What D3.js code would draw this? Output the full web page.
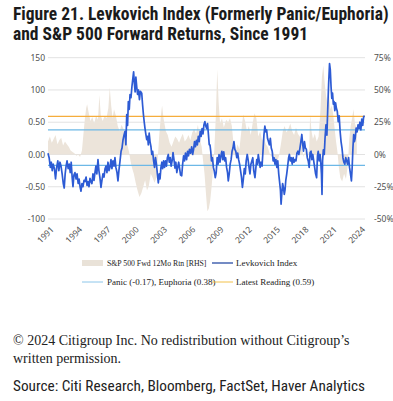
<!DOCTYPE html>
<html>
<head>
<meta charset="utf-8">
<script src="https://cdn.jsdelivr.net/npm/d3@7"></script>
<style>
  body { margin: 0; background: #fff; }
  svg { display: block; }
</style>
</head>
<body>
<script>
// Levkovich Index, [year, index]
var levkovich = [
  [1991.00, 0.02], [1991.12, -0.05], [1991.25, -0.20], [1991.35, -0.12], [1991.45, -0.25], [1991.55, -0.15],
  [1991.68, -0.22], [1991.80, -0.38], [1991.92, -0.20], [1992.04, -0.10], [1992.15, -0.25], [1992.27, -0.12],
  [1992.38, -0.18], [1992.50, -0.30], [1992.62, -0.45], [1992.72, -0.52], [1992.82, -0.30], [1992.92, -0.18],
  [1993.02, -0.10], [1993.14, -0.22], [1993.25, -0.15], [1993.36, -0.28], [1993.46, -0.12], [1993.56, -0.35],
  [1993.65, -0.50], [1993.75, -0.32], [1993.86, -0.28], [1993.98, -0.38], [1994.08, -0.30], [1994.20, -0.45],
  [1994.30, -0.38], [1994.40, -0.50], [1994.50, -0.57], [1994.60, -0.45], [1994.71, -0.50], [1994.82, -0.40],
  [1994.92, -0.42], [1995.04, -0.35], [1995.14, -0.48], [1995.24, -0.42], [1995.35, -0.50], [1995.45, -0.37],
  [1995.56, -0.42], [1995.66, -0.45], [1995.77, -0.30], [1995.88, -0.40], [1995.98, -0.28], [1996.08, -0.18],
  [1996.18, -0.30], [1996.30, -0.08], [1996.40, -0.25], [1996.50, -0.35], [1996.62, -0.51], [1996.72, -0.40],
  [1996.83, -0.30], [1996.94, -0.35], [1997.05, -0.22], [1997.15, -0.18], [1997.25, -0.28], [1997.36, -0.12],
  [1997.47, -0.25], [1997.57, -0.20], [1997.68, -0.08], [1997.78, -0.22], [1997.89, -0.10], [1998.00, -0.18],
  [1998.10, -0.05], [1998.20, -0.20], [1998.32, -0.28], [1998.42, -0.41], [1998.52, -0.25], [1998.64, -0.10],
  [1998.75, 0.05], [1998.85, 0.10], [1998.95, 0.22], [1999.06, 0.30], [1999.17, 0.36], [1999.26, 0.15],
  [1999.35, 0.62], [1999.44, 0.45], [1999.52, 0.82], [1999.62, 0.70], [1999.70, 0.93], [1999.80, 0.88],
  [1999.90, 1.05], [2000.00, 1.18], [2000.08, 1.28], [2000.16, 1.10], [2000.24, 0.97], [2000.32, 1.20],
  [2000.41, 1.05], [2000.50, 0.93], [2000.60, 1.00], [2000.70, 0.85], [2000.80, 0.98], [2000.94, 0.95],
  [2001.03, 0.77], [2001.12, 0.62], [2001.20, 0.51], [2001.29, 0.40], [2001.38, 0.31], [2001.47, 0.23],
  [2001.56, 0.28], [2001.64, 0.15], [2001.73, 0.33], [2001.82, 0.20], [2001.92, 0.12], [2002.00, 0.00],
  [2002.10, 0.05], [2002.20, -0.10], [2002.30, -0.20], [2002.40, -0.05], [2002.50, -0.15], [2002.60, -0.30],
  [2002.70, -0.44], [2002.80, -0.30], [2002.88, -0.38], [2002.98, -0.20], [2003.08, -0.12], [2003.16, -0.22],
  [2003.26, -0.10], [2003.36, -0.20], [2003.46, -0.10], [2003.56, -0.18], [2003.66, -0.05], [2003.76, 0.00],
  [2003.86, -0.12], [2003.96, -0.05], [2004.06, -0.18], [2004.16, -0.10], [2004.26, 0.03], [2004.36, -0.08],
  [2004.47, -0.21], [2004.56, -0.12], [2004.66, -0.28], [2004.76, -0.20], [2004.86, -0.12], [2004.96, -0.22],
  [2005.06, -0.32], [2005.18, -0.33], [2005.28, -0.15], [2005.38, -0.02], [2005.48, -0.10], [2005.58, 0.02],
  [2005.70, -0.08], [2005.80, 0.05], [2005.90, -0.02], [2006.00, 0.08], [2006.12, 0.02], [2006.24, 0.12],
  [2006.34, 0.00], [2006.44, 0.08], [2006.54, 0.20], [2006.64, 0.12], [2006.74, 0.22], [2006.84, 0.15],
  [2006.94, 0.28], [2007.04, 0.20], [2007.14, 0.36], [2007.24, 0.28], [2007.34, 0.40], [2007.44, 0.32],
  [2007.54, 0.46], [2007.64, 0.51], [2007.74, 0.44], [2007.84, 0.40], [2007.92, 0.48], [2008.02, 0.30],
  [2008.10, 0.15], [2008.18, 0.15], [2008.26, 0.05], [2008.34, -0.10], [2008.44, -0.05], [2008.54, -0.20],
  [2008.64, -0.26], [2008.74, -0.36], [2008.84, -0.28], [2008.94, -0.05], [2009.04, -0.15], [2009.14, 0.00],
  [2009.24, -0.12], [2009.34, -0.02], [2009.44, 0.05], [2009.54, -0.08], [2009.64, 0.04], [2009.74, -0.10],
  [2009.84, -0.05], [2009.94, -0.20], [2010.04, -0.28], [2010.12, -0.41], [2010.22, -0.30], [2010.32, -0.15],
  [2010.42, -0.08], [2010.52, 0.05], [2010.62, 0.10], [2010.72, 0.20], [2010.82, 0.08], [2010.92, 0.05],
  [2011.02, -0.05], [2011.12, 0.02], [2011.22, -0.08], [2011.32, -0.15], [2011.42, -0.25], [2011.52, -0.35],
  [2011.62, -0.51], [2011.72, -0.38], [2011.82, -0.22], [2011.92, -0.30], [2012.02, -0.10], [2012.13, 0.00],
  [2012.22, -0.08], [2012.32, -0.20], [2012.42, -0.30], [2012.52, -0.15], [2012.62, -0.10], [2012.72, -0.05],
  [2012.82, -0.25], [2012.95, -0.36], [2013.05, -0.20], [2013.14, -0.08], [2013.22, -0.15], [2013.30, 0.00],
  [2013.40, -0.10], [2013.50, -0.20], [2013.60, -0.12], [2013.70, -0.18], [2013.80, 0.05], [2013.90, 0.30],
  [2014.00, 0.44], [2014.10, 0.35], [2014.19, 0.38], [2014.28, 0.25], [2014.38, 0.20], [2014.48, 0.15],
  [2014.58, 0.25], [2014.68, 0.10], [2014.78, 0.05], [2014.88, -0.10], [2014.98, -0.05], [2015.07, -0.15],
  [2015.17, -0.08], [2015.27, -0.20], [2015.37, -0.10], [2015.47, -0.30], [2015.55, -0.41], [2015.65, -0.55],
  [2015.72, -0.77], [2015.80, -0.60], [2015.88, -0.45], [2015.98, -0.52], [2016.06, -0.62], [2016.14, -0.55],
  [2016.22, -0.40], [2016.32, -0.30], [2016.42, -0.18], [2016.52, -0.05], [2016.60, 0.00], [2016.70, -0.10],
  [2016.80, -0.05], [2016.90, -0.15], [2017.00, -0.05], [2017.10, -0.12], [2017.20, -0.08], [2017.30, -0.10],
  [2017.40, 0.02], [2017.50, 0.05], [2017.60, 0.00], [2017.72, 0.10], [2017.82, 0.20], [2017.92, 0.31],
  [2018.02, 0.15], [2018.10, 0.05], [2018.20, 0.20], [2018.30, 0.10], [2018.40, 0.08], [2018.50, -0.05],
  [2018.60, -0.10], [2018.70, -0.20], [2018.80, 0.03], [2018.90, 0.05], [2018.98, -0.08], [2019.08, 0.00],
  [2019.18, -0.10], [2019.28, -0.20], [2019.38, -0.30], [2019.49, -0.36], [2019.58, -0.02], [2019.66, 0.05],
  [2019.76, -0.10], [2019.86, 0.00], [2019.94, -0.15], [2020.00, -0.30], [2020.06, -0.62], [2020.12, -0.10],
  [2020.20, 0.07], [2020.30, 0.00], [2020.38, 0.25], [2020.48, 0.46], [2020.58, 0.30], [2020.66, 0.67],
  [2020.76, 1.08], [2020.86, 1.41], [2020.94, 1.31], [2021.02, 1.05], [2021.10, 0.87], [2021.18, 0.95],
  [2021.26, 0.78], [2021.34, 0.82], [2021.42, 0.68], [2021.50, 0.80], [2021.58, 0.72], [2021.68, 0.67],
  [2021.78, 0.51], [2021.88, 0.60], [2021.98, 0.36], [2022.08, 0.20], [2022.18, 0.10], [2022.28, -0.05],
  [2022.38, -0.12], [2022.48, -0.15], [2022.58, -0.05], [2022.68, -0.10], [2022.78, -0.15], [2022.88, -0.05],
  [2022.98, -0.20], [2023.08, -0.30], [2023.18, -0.41], [2023.26, -0.20], [2023.34, 0.10], [2023.42, 0.31],
  [2023.50, 0.20], [2023.58, 0.25], [2023.68, 0.41], [2023.78, 0.35], [2023.88, 0.46], [2023.98, 0.40],
  [2024.08, 0.50], [2024.18, 0.38], [2024.28, 0.55], [2024.38, 0.45], [2024.48, 0.59], [2024.60, 0.59]
];

// S&P 500 forward 12 month return in %, [year, pct] (right axis)
var spxFwdReturn = [
  [1991.00, 10], [1991.20, 14], [1991.40, 9], [1991.60, 12], [1991.80, 15], [1992.00, 8], [1992.20, 11],
  [1992.40, 13], [1992.60, 7], [1992.80, 10], [1993.00, 8], [1993.20, 6], [1993.40, 3], [1993.60, 2],
  [1993.80, 1], [1994.00, -1], [1994.20, 0], [1994.40, -2], [1994.60, 3], [1994.75, 15], [1994.90, 27],
  [1995.05, 36], [1995.15, 39], [1995.30, 33], [1995.50, 26], [1995.70, 29], [1995.90, 24], [1996.10, 30],
  [1996.30, 27], [1996.45, 46], [1996.60, 30], [1996.80, 26], [1997.00, 30], [1997.20, 28], [1997.40, 36],
  [1997.55, 52], [1997.70, 38], [1997.85, 28], [1998.00, 35], [1998.20, 30], [1998.40, 22], [1998.60, 18],
  [1998.80, 23], [1999.00, 20], [1999.20, 16], [1999.40, 8], [1999.60, 2], [1999.75, -5], [1999.90, -10],
  [2000.10, -15], [2000.30, -22], [2000.50, -28], [2000.70, -33], [2000.90, -30], [2001.10, -25],
  [2001.30, -20], [2001.50, -28], [2001.70, -24], [2001.90, -15], [2002.10, -18], [2002.30, -22],
  [2002.50, -18], [2002.65, -2], [2002.80, 15], [2003.00, 32], [2003.10, 38], [2003.25, 28], [2003.50, 18],
  [2003.70, 15], [2003.90, 9], [2004.10, 6], [2004.30, 10], [2004.50, 14], [2004.70, 12], [2004.90, 9],
  [2005.10, 13], [2005.30, 16], [2005.50, 10], [2005.70, 12], [2005.90, 15], [2006.10, 11], [2006.30, 17],
  [2006.50, 20], [2006.70, 16], [2006.90, 23], [2007.10, 12], [2007.30, 6], [2007.45, -5], [2007.60, -15],
  [2007.75, -30], [2007.90, -44], [2008.05, -42], [2008.20, -36], [2008.35, -25], [2008.50, -12],
  [2008.65, 5], [2008.80, 30], [2008.95, 66], [2009.10, 40], [2009.25, 24], [2009.45, 28], [2009.65, 21],
  [2009.90, 27], [2010.10, 25], [2010.30, 28], [2010.50, 22], [2010.70, 6], [2010.90, 2], [2011.10, 8],
  [2011.30, 4], [2011.50, 18], [2011.70, 31], [2011.90, 26], [2012.10, 18], [2012.30, 22], [2012.50, 15],
  [2012.70, 24], [2012.90, 32], [2013.10, 28], [2013.30, 14], [2013.50, 18], [2013.70, 11], [2013.90, 13],
  [2014.10, 8], [2014.30, 6], [2014.50, 1], [2014.70, -2], [2014.90, 2], [2015.10, -4], [2015.30, -6],
  [2015.50, -1], [2015.70, 8], [2015.90, 18], [2016.10, 22], [2016.30, 17], [2016.50, 20], [2016.70, 24],
  [2016.90, 18], [2017.10, 15], [2017.30, 21], [2017.50, 16], [2017.70, 14], [2017.90, 8], [2018.10, -2],
  [2018.30, 3], [2018.50, -4], [2018.70, 4], [2018.80, 31], [2018.95, 18], [2019.10, 12], [2019.30, 16],
  [2019.50, 10], [2019.70, 14], [2019.90, 35], [2020.05, 60], [2020.20, 69], [2020.35, 55], [2020.50, 45],
  [2020.65, 40], [2020.80, 46], [2020.95, 35], [2021.10, 38], [2021.25, 31], [2021.40, 20], [2021.55, 10],
  [2021.70, 2], [2021.85, -10], [2022.00, -18], [2022.20, -21], [2022.40, -15], [2022.60, -19],
  [2022.80, -8], [2022.95, 12], [2023.10, 22], [2023.25, 28], [2023.40, 35], [2023.55, 24], [2023.75, 20]
];

var panicLevel = -0.17;
var euphoriaLevel = 0.38;
var latestReading = 0.59;

var xTickYears = [1991, 1994, 1997, 2000, 2003, 2006, 2009, 2012, 2015, 2018, 2021, 2024];
var leftTicks = [1.5, 1.0, 0.5, 0, -0.5, -1.0];
var leftTickLabels = ["150", "100", "0.50", "0.00", "-0.50", "-100"];
var rightTicks = [75, 50, 25, 0, -25, -50];
var rightTickLabels = ["75%", "50%", "25%", "0%", "-25%", "-50%"];

var legendLabels = ["S&P 500 Fwd 12Mo Rtn [RHS]", "Levkovich Index", "Panic (-0.17), Euphoria (0.38)", "Latest Reading (0.59)"];

var width = 393, height = 401;
var plotLeft = 48, plotRight = 365, plotTop = 57.7, plotBottom = 219;

var svg = d3.select("body").append("svg")
  .attr("width", width)
  .attr("height", height);

// shrink a text until it fits in maxW
function fitText(t, maxW) {
  var size = parseFloat(t.style("font-size"));
  while (t.node().getComputedTextLength() > maxW && size > 6) {
    size -= 0.25;
    t.style("font-size", size + "px");
  }
}

// title
var titleFont = "'Liberation Sans Narrow', 'Roboto Condensed', Roboto, sans-serif";
var t1 = svg.append("text").attr("x", 13).attr("y", 20)
  .style("font-family", titleFont).style("font-weight", 700).style("font-size", "17.75px")
  .attr("fill", "#1b1b1b")
  .text("Figure 21. Levkovich Index (Formerly Panic/Euphoria)");
fitText(t1, 378);
var t2 = svg.append("text").attr("x", 13).attr("y", 40)
  .style("font-family", titleFont).style("font-weight", 700).style("font-size", t1.style("font-size"))
  .attr("fill", "#1b1b1b")
  .text("and S&P 500 Forward Returns, Since 1991");

var x = d3.scaleLinear().domain([1991, 2024.62]).range([plotLeft, plotRight]);
var yLeft = d3.scaleLinear().domain([-1.0, 1.5]).range([plotBottom, plotTop]);
var yRight = d3.scaleLinear().domain([-50, 75]).range([plotBottom, plotTop]);

// gridlines
svg.append("g").selectAll("line")
  .data(leftTicks)
  .enter().append("line")
  .attr("x1", plotLeft).attr("x2", plotRight)
  .attr("y1", function(d) { return yLeft(d); })
  .attr("y2", function(d) { return yLeft(d); })
  .attr("stroke", "#e2e2e2")
  .attr("stroke-width", 1);

// forward return area
var area = d3.area()
  .x(function(d) { return x(d[0]); })
  .y0(yRight(0))
  .y1(function(d) { return yRight(d[1]); });

svg.append("path")
  .datum(spxFwdReturn)
  .attr("d", area)
  .attr("fill", "#ece4da");

// reference lines
var refLines = [
  { v: latestReading, c: "#f5ad3c" },
  { v: euphoriaLevel, c: "#6db8e6" },
  { v: panicLevel, c: "#6db8e6" }
];
svg.append("g").selectAll("line")
  .data(refLines)
  .enter().append("line")
  .attr("x1", plotLeft).attr("x2", plotRight)
  .attr("y1", function(d) { return yLeft(d.v); })
  .attr("y2", function(d) { return yLeft(d.v); })
  .attr("stroke", function(d) { return d.c; })
  .attr("stroke-width", 1.3);

// Levkovich line
var line = d3.line()
  .x(function(d) { return x(d[0]); })
  .y(function(d) { return yLeft(d[1]); });

svg.append("path")
  .datum(levkovich)
  .attr("d", line)
  .attr("fill", "none")
  .attr("stroke", "#2d5bd4")
  .attr("stroke-width", 1.7)
  .attr("stroke-linejoin", "round");

// axes
var tickFont = "'Noto Sans', 'Open Sans', sans-serif";

var leftAxis = d3.axisLeft(yLeft)
  .tickValues(leftTicks)
  .tickSize(0)
  .tickPadding(3)
  .tickFormat(function(d, i) { return leftTickLabels[i]; });
var gl = svg.append("g").attr("transform", "translate(" + plotLeft + ",0)").call(leftAxis);
gl.select(".domain").remove();
gl.selectAll("text").attr("fill", "#505050").style("font-family", tickFont).style("font-size", "8.5px");

var rightAxis = d3.axisRight(yRight)
  .tickValues(rightTicks)
  .tickSize(0)
  .tickPadding(9)
  .tickFormat(function(d, i) { return rightTickLabels[i]; });
var gr = svg.append("g").attr("transform", "translate(" + plotRight + ",0)").call(rightAxis);
gr.select(".domain").remove();
gr.selectAll("text").attr("fill", "#505050").style("font-family", tickFont).style("font-size", "8.5px");

var bottomAxis = d3.axisBottom(x)
  .tickValues(xTickYears)
  .tickSize(0)
  .tickFormat(d3.format("d"));
var gb = svg.append("g").attr("transform", "translate(0," + plotBottom + ")").call(bottomAxis);
gb.select(".domain").remove();
gb.selectAll("text")
  .attr("fill", "#505050")
  .style("font-family", tickFont)
  .style("font-size", "8.5px")
  .attr("text-anchor", "end")
  .attr("dy", 0)
  .attr("y", 0)
  .attr("transform", "translate(6,11) rotate(-45)");

// legend
var legend = svg.append("g")
  .style("font-family", "'Liberation Serif', 'DejaVu Serif', serif")
  .style("font-size", "9px")
  .attr("fill", "#222");

legend.append("rect").attr("x", 82).attr("y", 260).attr("width", 21).attr("height", 6).attr("fill", "#e9e2d8");
var lg0 = legend.append("text").attr("x", 107).attr("y", 266).text(legendLabels[0]);
fitText(lg0, 101);
legend.append("line").attr("x1", 212).attr("x2", 233).attr("y1", 263).attr("y2", 263)
  .attr("stroke", "#4665b0").attr("stroke-width", 1.5);
legend.append("text").attr("x", 236).attr("y", 266).text(legendLabels[1]);
legend.append("line").attr("x1", 82).attr("x2", 103).attr("y1", 282).attr("y2", 282)
  .attr("stroke", "#8cc6ea").attr("stroke-width", 1);
legend.append("text").attr("x", 107).attr("y", 285).text(legendLabels[2]);
legend.append("line").attr("x1", 212).attr("x2", 233).attr("y1", 282).attr("y2", 282)
  .attr("stroke", "#f2c14a").attr("stroke-width", 1);
legend.append("text").attr("x", 236).attr("y", 285).text(legendLabels[3]);

// footer
var serif = "'Liberation Serif', 'DejaVu Serif', serif";
var f1 = svg.append("text").attr("x", 13).attr("y", 345)
  .style("font-family", serif).style("font-size", "14px").attr("fill", "#222")
  .text("\u00a9 2024 Citigroup Inc. No redistribution without Citigroup\u2019s");
fitText(f1, 362);
svg.append("text").attr("x", 13).attr("y", 363)
  .style("font-family", serif).style("font-size", f1.style("font-size")).attr("fill", "#222")
  .text("written permission.");

var src = svg.append("text")
  .attr("x", 13).attr("y", 391)
  .style("font-family", "'Liberation Sans Narrow', 'Roboto Condensed', Roboto, sans-serif")
  .style("font-size", "15.5px")
  .attr("fill", "#222")
  .text("Source: Citi Research, Bloomberg, FactSet, Haver Analytics");
fitText(src, 356);
</script>
</body>
</html>
